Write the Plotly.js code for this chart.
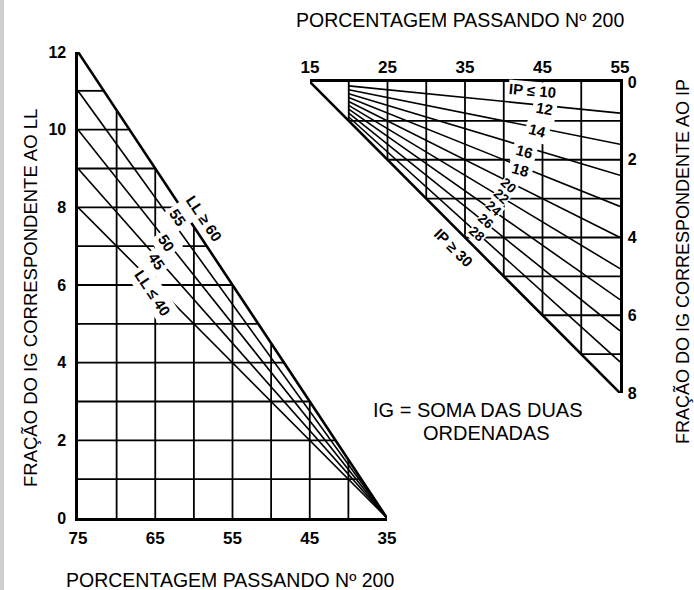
<!DOCTYPE html>
<html>
<head>
<meta charset="utf-8">
<script src="https://cdn.plot.ly/plotly-3.0.1.min.js"></script>
<style>
body { margin: 0; background: #fff; }
#plotArea { width: 694px; height: 590px; }
</style>
</head>
<body>
<div id="plotArea"></div>
<script>
// left diagram: fraction of IG from the liquid limit (LL)
var llPct = [75, 70, 65, 60, 55, 50, 45, 40, 35];
var llFracGrid = [1, 2, 3, 4, 5, 6, 7, 8, 9, 10, 11];
var llValues = [40, 45, 50, 55, 60];
var llFracAt75 = [8, 9, 10, 11, 12];
var llLabels = ["LL ≤ 40", "45", "50", "55", "LL ≥ 60"];
var llLabelPct = [65.4, 64.8, 63.6, 62.1, 58.7];
var llLabelFrac = [5.8, 6.6, 7.09, 7.73, 7.7];

// right diagram: fraction of IG from the plasticity index (IP)
var ipPct = [15, 20, 25, 30, 35, 40, 45, 50, 55];
var ipFracGrid = [1, 2, 3, 4, 5, 6, 7];
var ipValues = [10, 12, 14, 16, 18, 20, 22, 24, 26, 28, 30];
var ipFracAt55 = [0, 0.8, 1.6, 2.4, 3.2, 4.0, 4.8, 5.6, 6.4, 7.2, 8];
var ipLabels = ["IP ≤ 10", "12", "14", "16", "18", "20", "22", "24", "26", "28", "IP ≥ 30"];
var ipLabelPct = [43.7, 45.2, 44.4, 42.7, 42.1, 40.6, 39.7, 38.7, 37.7, 36.6, 33.5];
var ipLabelFrac = [0.22, 0.69, 1.24, 1.79, 2.25, 2.66, 2.94, 3.25, 3.59, 3.92, 4.26];
var ipLabelAngle = [5, 10, 15, 15, 15, 42, 42, 42, 42, 42, 45];
var ipLineStart = 20;

var W = 694, H = 590;
var FONT = "Liberation Sans, Arial, sans-serif";

// join segments into one trace with gaps
function segs(list, xa, ya, width) {
    var x = [], y = [];
    list.forEach(function(s) {
        x.push(s[0], s[2], null);
        y.push(s[1], s[3], null);
    });
    return {x: x, y: y, xaxis: xa, yaxis: ya, mode: "lines", type: "scatter",
            line: {color: "black", width: width}, hoverinfo: "skip", showlegend: false};
}

var pMin = llPct[llPct.length - 1], pMax = llPct[0];
var fMax = llFracAt75[llFracAt75.length - 1];
function llEdgeX(f) { return pMin + (pMax - pMin) * f / fMax; }
function llEdgeY(p) { return fMax * (p - pMin) / (pMax - pMin); }

var qMin = ipPct[0], qMax = ipPct[ipPct.length - 1];
var gMax = ipFracAt55[ipFracAt55.length - 1];
function ipEdgeX(f) { return qMin + (qMax - qMin) * f / gMax; }
function ipEdgeY(p) { return gMax * (p - qMin) / (qMax - qMin); }

var data = [];

// left grid
data.push(segs(llFracGrid.map(f => [pMax, f, llEdgeX(f), f]), "x", "y", 1.8));
data.push(segs(llPct.slice(1, -1).map(p => [p, 0, p, llEdgeY(p)]), "x", "y", 1.8));
// LL lines
data.push(segs(llValues.slice(0, -1).map((v, i) => [pMin, 0, pMax, llFracAt75[i]]), "x", "y", 1.6));
data.push(segs([[pMin, 0, pMax, fMax]], "x", "y", 2.6));

// right grid
data.push(segs(ipPct.slice(1, -1).map(p => [p, 0, p, ipEdgeY(p)]), "x2", "y2", 1.8));
data.push(segs(ipFracGrid.map(f => [ipEdgeX(f), f, qMax, f]), "x2", "y2", 1.8));
// IP lines
data.push(segs(ipValues.slice(1, -1).map((v, i) => {
    var end = ipFracAt55[i + 1];
    return [ipLineStart, end * (ipLineStart - qMin) / (qMax - qMin), qMax, end];
}), "x2", "y2", 1.6));
data.push(segs([[qMin, 0, qMax, gMax]], "x2", "y2", 2.6));

var annotations = [];
llLabels.forEach(function(t, i) {
    annotations.push({xref: "x", yref: "y", x: llLabelPct[i], y: llLabelFrac[i], text: t,
        textangle: 56, showarrow: false, bgcolor: i == 4 ? "rgba(0,0,0,0)" : "white", borderpad: 3,
        font: {family: FONT, size: 15, color: "black", weight: "bold"}});
});
// "IP <= 10" goes last so no other label box covers it
[1, 2, 3, 4, 5, 6, 7, 8, 9, 10, 0].forEach(function(i) {
    var stacked = i >= 5 && i <= 9;
    annotations.push({xref: "x2", yref: "y2", x: ipLabelPct[i], y: ipLabelFrac[i], text: ipLabels[i],
        textangle: ipLabelAngle[i], showarrow: false, bgcolor: "white",
        borderpad: (stacked || i == 0) ? 0 : 3,
        font: {family: FONT, size: stacked ? 13.5 : 15, color: "black", weight: "bold"}});
});

function paperText(t, px, py, size, angle) {
    return {xref: "paper", yref: "paper", x: px / W, y: 1 - py / H, text: t, showarrow: false,
        textangle: angle || 0, xanchor: "center", yanchor: "middle",
        font: {family: FONT, size: size, color: "black"}};
}
annotations.push(paperText("PORCENTAGEM PASSANDO Nº 200", 230, 580, 19.5));
annotations.push(paperText("PORCENTAGEM PASSANDO Nº 200", 460, 20, 19.5));
annotations.push(paperText("FRAÇÃO DO IG CORRESPONDENTE AO LL", 30, 298, 18.5, -90));
annotations.push(paperText("FRAÇÃO DO IG CORRESPONDENTE AO IP", 682, 262, 18, -90));
annotations.push(paperText("IG = SOMA DAS DUAS", 478, 410, 20));
annotations.push(paperText("ORDENADAS", 486, 433, 20));

var tickFontX = {family: FONT, size: 17, color: "black", weight: "bold"};
var tickFontY = {family: FONT, size: 16, color: "black", weight: "bold"};
var axisBase = {showgrid: false, zeroline: false, showline: true, linecolor: "black",
    linewidth: 2.6, ticks: "", fixedrange: true};

var layout = {
    width: W, height: H,
    margin: {l: 0, r: 0, t: 0, b: 0},
    paper_bgcolor: "white", plot_bgcolor: "rgba(0,0,0,0)",
    showlegend: false,
    xaxis: Object.assign({}, axisBase, {domain: [78 / W, 387 / W], range: [75, 35], anchor: "y",
        tickvals: [75, 65, 55, 45, 35], tickfont: tickFontX, ticklabelstandoff: 3}),
    yaxis: Object.assign({}, axisBase, {domain: [1 - 518 / H, 1 - 52 / H], range: [0, 12], anchor: "x",
        tickvals: [0, 2, 4, 6, 8, 10, 12], tickfont: tickFontY, ticklabelstandoff: 6}),
    xaxis2: Object.assign({}, axisBase, {domain: [310 / W, 620 / W], range: [15, 55], anchor: "y2",
        side: "top", tickvals: [15, 25, 35, 45, 55], tickfont: tickFontX, ticklabelstandoff: 0}),
    yaxis2: Object.assign({}, axisBase, {domain: [1 - 393 / H, 1 - 82 / H], range: [8, 0], anchor: "x2",
        side: "right", tickvals: [0, 2, 4, 6, 8], tickfont: tickFontY, ticklabelstandoff: 2}),
    annotations: annotations,
    shapes: [{type: "rect", xref: "paper", yref: "paper", x0: 0, x1: 4 / W, y0: 0, y1: 1,
        fillcolor: "#cfcfcf", line: {width: 0}, layer: "below"}]
};

Plotly.newPlot("plotArea", data, layout, {staticPlot: true});
</script>
</body>
</html>
